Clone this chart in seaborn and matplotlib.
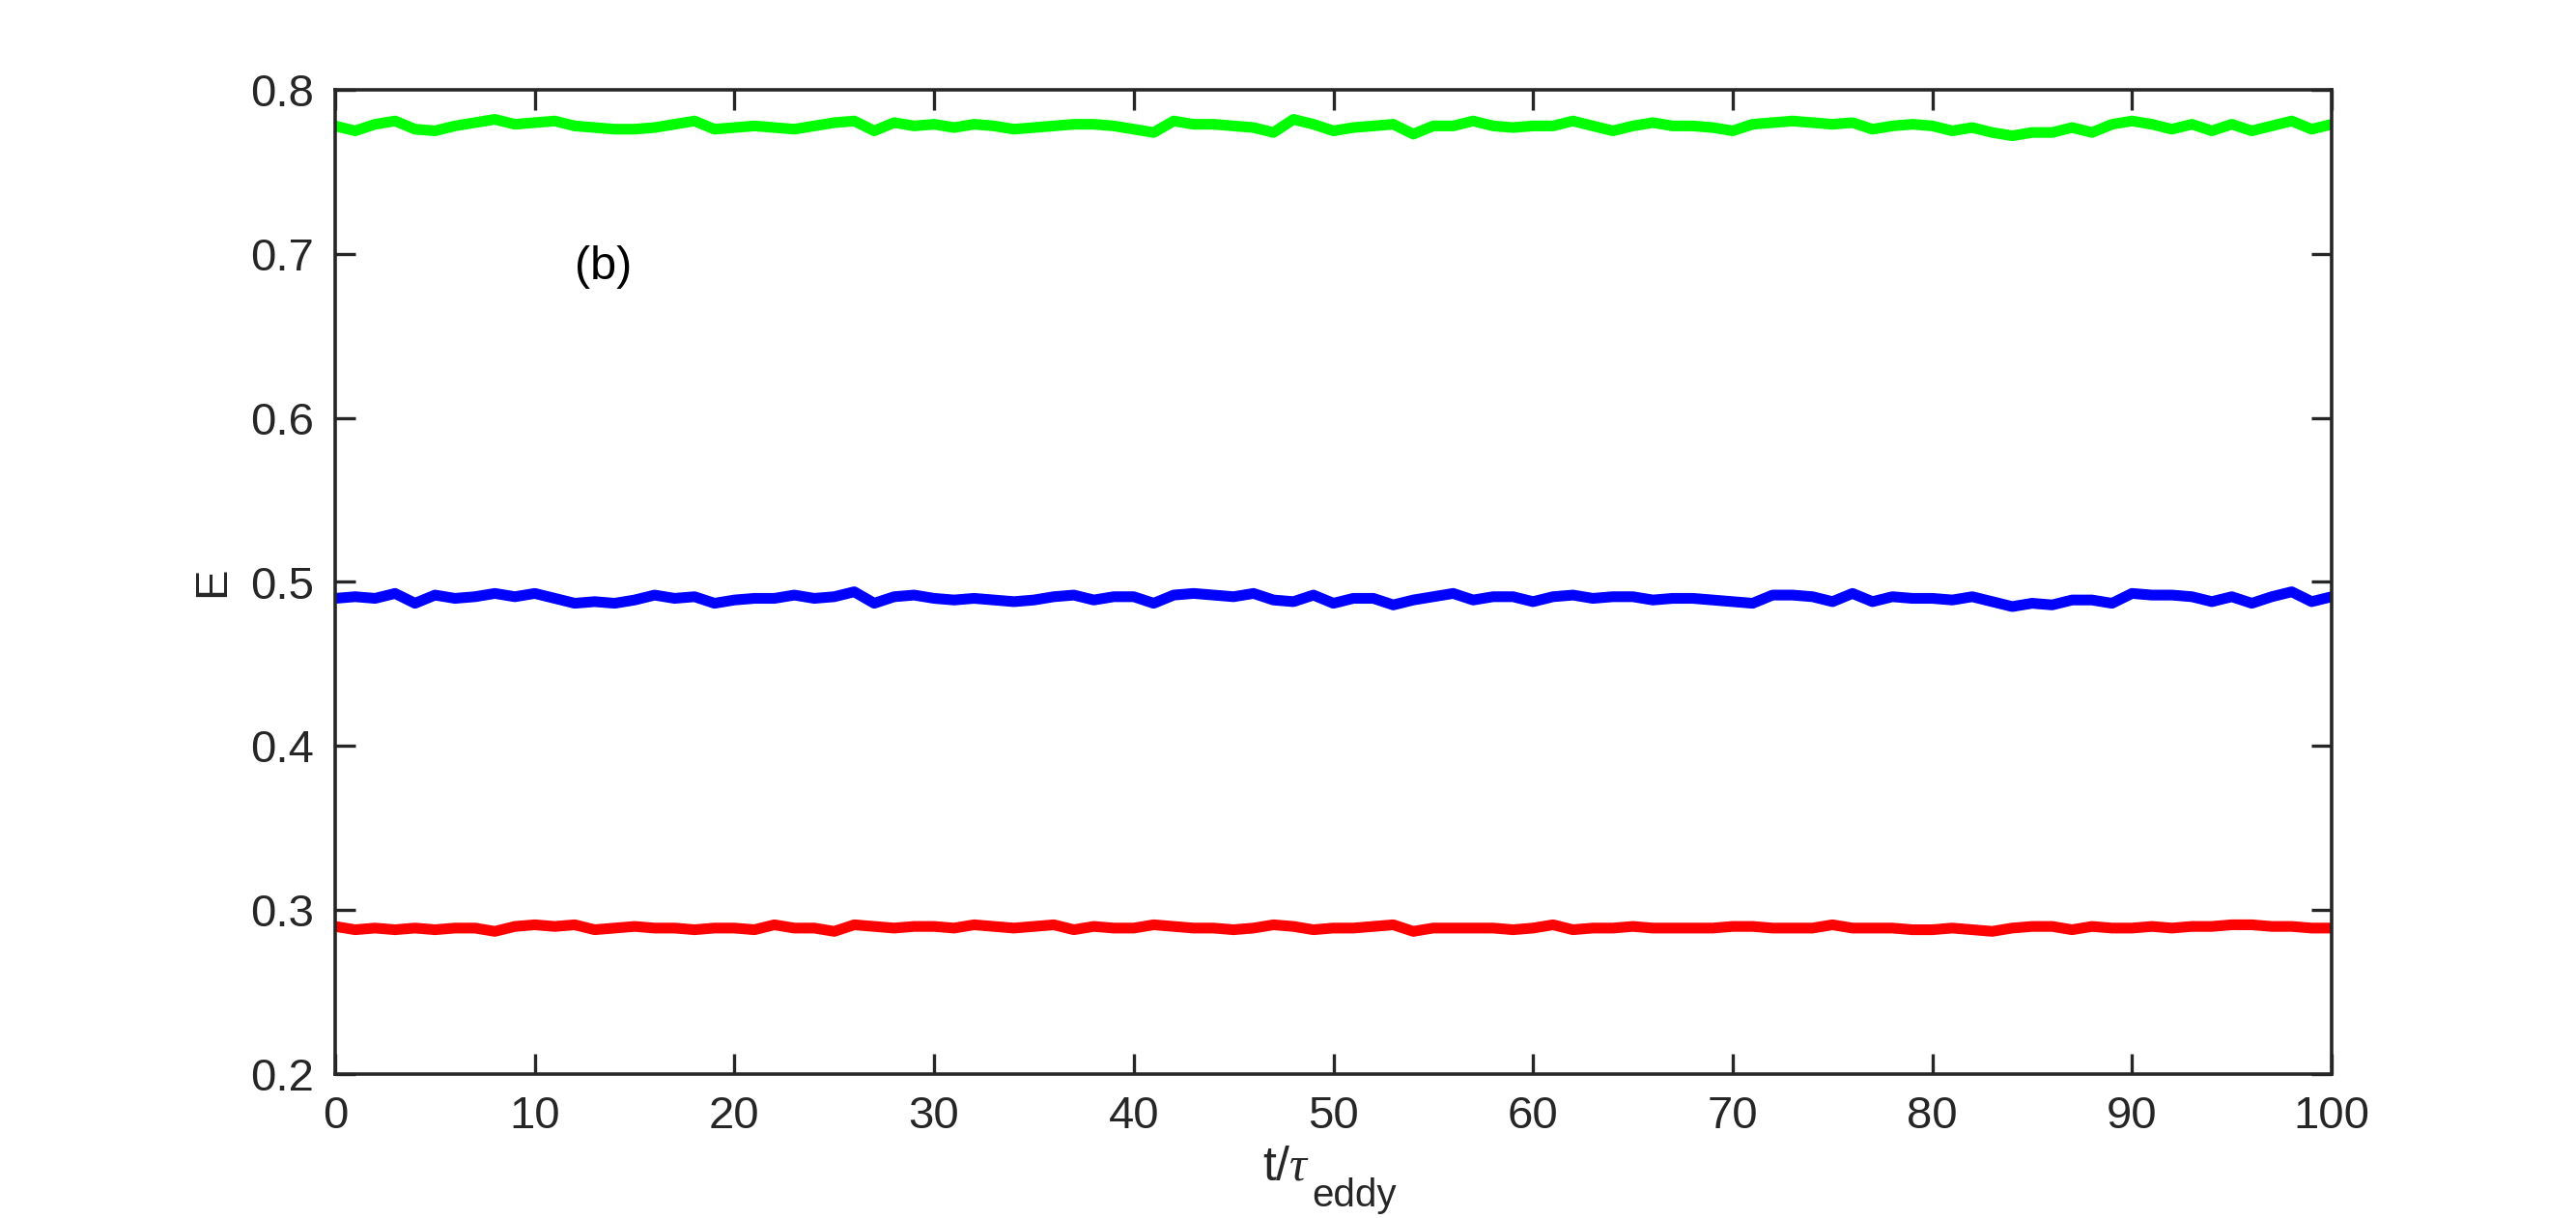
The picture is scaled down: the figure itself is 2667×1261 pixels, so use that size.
import numpy as np
import pandas as pd
import matplotlib
matplotlib.use("Agg")
import matplotlib.pyplot as plt
import seaborn as sns

# ---- data ----
t_vals = list(range(0, 101))

E_green = [0.778, 0.775, 0.779, 0.781, 0.776, 0.775, 0.778, 0.780, 0.782, 0.779, 0.780, 0.781, 0.778, 0.777, 0.776, 0.776, 0.777, 0.779, 0.781, 0.776, 0.777, 0.778, 0.777, 0.776, 0.778, 0.780, 0.781, 0.775, 0.780, 0.778, 0.779, 0.777, 0.779, 0.778,
           0.776, 0.777, 0.778, 0.779, 0.779, 0.778, 0.776, 0.774, 0.781, 0.779, 0.779, 0.778, 0.777, 0.774, 0.782, 0.779, 0.775, 0.777, 0.778, 0.779, 0.773, 0.778, 0.778, 0.781, 0.778, 0.777, 0.778, 0.778, 0.781, 0.778, 0.775, 0.778, 0.780,
           0.778, 0.778, 0.777, 0.775, 0.779, 0.780, 0.781, 0.780, 0.779, 0.780, 0.776, 0.778, 0.779, 0.778, 0.775, 0.777, 0.774, 0.772, 0.774, 0.774, 0.777, 0.774, 0.779, 0.781, 0.779, 0.776, 0.779, 0.775, 0.779, 0.775, 0.778, 0.781, 0.776, 0.779]

E_blue = [0.490, 0.491, 0.490, 0.493, 0.487, 0.492, 0.490, 0.491, 0.493, 0.491, 0.493, 0.490, 0.487, 0.488, 0.487, 0.489, 0.492, 0.490, 0.491, 0.487, 0.489, 0.490, 0.490, 0.492, 0.490, 0.491, 0.494, 0.487, 0.491, 0.492, 0.490, 0.489, 0.490, 0.489,
          0.488, 0.489, 0.491, 0.492, 0.489, 0.491, 0.491, 0.487, 0.492, 0.493, 0.492, 0.491, 0.493, 0.489, 0.488, 0.492, 0.487, 0.490, 0.490, 0.486, 0.489, 0.491, 0.493, 0.489, 0.491, 0.491, 0.488, 0.491, 0.492, 0.490, 0.491, 0.491, 0.489,
          0.490, 0.490, 0.489, 0.488, 0.487, 0.492, 0.492, 0.491, 0.488, 0.493, 0.488, 0.491, 0.490, 0.490, 0.489, 0.491, 0.488, 0.485, 0.487, 0.486, 0.489, 0.489, 0.487, 0.493, 0.492, 0.492, 0.491, 0.488, 0.491, 0.487, 0.491, 0.494, 0.488, 0.491]

E_red = [0.290, 0.288, 0.289, 0.288, 0.289, 0.288, 0.289, 0.289, 0.287, 0.290, 0.291, 0.290, 0.291, 0.288, 0.289, 0.290, 0.289, 0.289, 0.288, 0.289, 0.289, 0.288, 0.291, 0.289, 0.289, 0.287, 0.291, 0.290, 0.289, 0.290, 0.290, 0.289, 0.291, 0.290,
         0.289, 0.290, 0.291, 0.288, 0.290, 0.289, 0.289, 0.291, 0.290, 0.289, 0.289, 0.288, 0.289, 0.291, 0.290, 0.288, 0.289, 0.289, 0.290, 0.291, 0.287, 0.289, 0.289, 0.289, 0.289, 0.288, 0.289, 0.291, 0.288, 0.289, 0.289, 0.290, 0.289,
         0.289, 0.289, 0.289, 0.290, 0.290, 0.289, 0.289, 0.289, 0.291, 0.289, 0.289, 0.289, 0.288, 0.288, 0.289, 0.288, 0.287, 0.289, 0.290, 0.290, 0.288, 0.290, 0.289, 0.289, 0.290, 0.289, 0.290, 0.290, 0.291, 0.291, 0.290, 0.290, 0.289, 0.289]

series_names = ["green", "blue", "red"]
series_colors = {"green": "#00FF00", "blue": "#0000FF", "red": "#FF0000"}

x_ticks = [0, 10, 20, 30, 40, 50, 60, 70, 80, 90, 100]
y_ticks = [0.2, 0.3, 0.4, 0.5, 0.6, 0.7, 0.8]
y_tick_labels = ["0.2", "0.3", "0.4", "0.5", "0.6", "0.7", "0.8"]

panel_label = "(b)"
xlabel_main = r"t/$\tau$"
xlabel_sub = "eddy"
ylabel = "E"

# ---- build table ----
frames = []
for name, vals in zip(series_names, [E_green, E_blue, E_red]):
    frames.append(pd.DataFrame({"t": t_vals, "E": vals, "series": name}))
df = pd.concat(frames, ignore_index=True)

# ---- style ----
sns.set_style("ticks")
plt.rcParams["font.family"] = ["Liberation Sans", "DejaVu Sans"]
plt.rcParams["mathtext.fontset"] = "custom"
plt.rcParams["mathtext.rm"] = "Liberation Sans"
plt.rcParams["mathtext.it"] = "Liberation Serif:italic"
plt.rcParams["mathtext.bf"] = "Liberation Sans:bold"

dark = "#262626"
W, H = 2667, 1261
fig = plt.figure(figsize=(W / 200, H / 200), dpi=200)
ax = fig.add_axes([347 / W, 1 - 1112 / H, (2414 - 347) / W, (1112 - 93) / H])

sns.lineplot(data=df, x="t", y="E", hue="series", palette=series_colors,
             hue_order=series_names, linewidth=4.0, legend=False, ax=ax,
             estimator=None, sort=False)

ax.set_xlim(0, 100)
ax.set_ylim(0.2, 0.8)
ax.set_xticks(x_ticks)
ax.set_yticks(y_ticks)
ax.set_yticklabels(y_tick_labels)

for side in ["top", "right", "bottom", "left"]:
    ax.spines[side].set_visible(True)
    ax.spines[side].set_color(dark)
    ax.spines[side].set_linewidth(1.3)

ax.tick_params(direction="in", length=7.5, width=1.2, colors=dark,
               labelsize=17, top=True, right=True, pad=8)

ax.set_xlabel("")
ax.set_ylabel(ylabel, fontsize=17, color=dark, labelpad=6)

# x label built from two pieces: main text and a large subscript
t_main = fig.text(1307 / W, 1 - 1222 / H, xlabel_main, fontsize=18, color=dark,
                  ha="left", va="baseline")
fig.canvas.draw()
bb = t_main.get_window_extent(renderer=fig.canvas.get_renderer())
fig.text(bb.x1 / W + 2 / W, 1 - 1249 / H, xlabel_sub, fontsize=14.5, color=dark,
         ha="left", va="baseline")

ax.text(12.0, 0.692, panel_label, fontsize=17.5, color="black",
        ha="left", va="center")

fig.savefig("out.png", dpi=200, facecolor="white")
